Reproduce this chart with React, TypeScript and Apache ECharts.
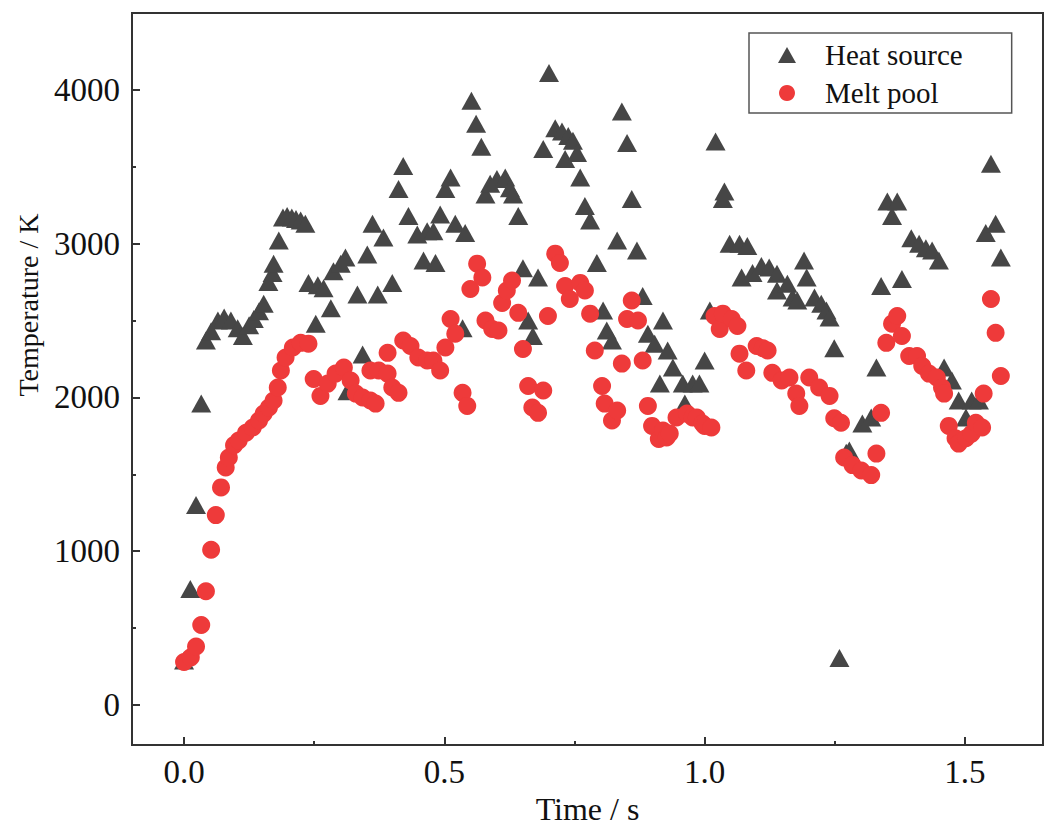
import React, { useEffect, useRef } from "react";
import * as echarts from "echarts";

const xTicks = [0, 0.5, 1.0, 1.5];
const xMinorTicks = [0.25, 0.75, 1.25];
const yTicks = [0, 1000, 2000, 3000, 4000];
const yMinorTicks = [500, 1500, 2500, 3500];
const seriesNames = ["Heat source", "Melt pool"];

const heatSource: [number, number][] = [
  [0.0, 290], [0.012, 755], [0.023, 1300], [0.033, 1960], [0.042, 2370], [0.052, 2430],
  [0.065, 2500], [0.077, 2520], [0.09, 2500], [0.103, 2450], [0.113, 2400], [0.125, 2470],
  [0.134, 2510], [0.144, 2560], [0.153, 2610], [0.162, 2750], [0.17, 2810], [0.172, 2870],
  [0.182, 3020], [0.19, 3170], [0.198, 3180], [0.207, 3170], [0.215, 3160], [0.224, 3150],
  [0.233, 3130], [0.239, 2745], [0.253, 2480], [0.257, 2730], [0.268, 2710], [0.282, 2580],
  [0.287, 2820], [0.301, 2870], [0.31, 2910], [0.314, 2040], [0.333, 2670], [0.343, 2280],
  [0.352, 2930], [0.362, 3130], [0.372, 2670], [0.383, 3040], [0.4, 2745], [0.412, 3355],
  [0.421, 3505], [0.431, 3180], [0.448, 3060], [0.46, 2890], [0.467, 3080], [0.479, 3080],
  [0.483, 2875], [0.492, 3190], [0.502, 3355], [0.512, 3430], [0.521, 3130], [0.535, 2450],
  [0.54, 3070], [0.552, 3930], [0.561, 3780], [0.571, 3630], [0.579, 3320], [0.588, 3390],
  [0.601, 3420], [0.617, 3430], [0.626, 3360], [0.632, 3320], [0.642, 3180], [0.651, 2840],
  [0.661, 2500], [0.67, 2400], [0.68, 2780], [0.69, 3615], [0.701, 4110], [0.713, 3750],
  [0.726, 3730], [0.732, 3550], [0.738, 3700], [0.747, 3670], [0.755, 3590], [0.761, 3430],
  [0.77, 3245], [0.78, 3150], [0.793, 2875], [0.805, 2565], [0.812, 2435], [0.822, 2370],
  [0.832, 3020], [0.841, 3860], [0.851, 3655], [0.86, 3290], [0.87, 2955], [0.881, 2660],
  [0.891, 2415], [0.904, 2350], [0.914, 2090], [0.92, 2500], [0.929, 2305], [0.939, 2195],
  [0.958, 2090], [0.962, 1960], [0.977, 2090], [0.99, 2090], [1.0, 2240], [1.01, 2565],
  [1.021, 3665], [1.035, 3290], [1.038, 3340], [1.048, 3000], [1.067, 3000], [1.071, 2780],
  [1.082, 2985], [1.092, 2810], [1.109, 2855], [1.124, 2845], [1.139, 2805], [1.139, 2695],
  [1.159, 2740], [1.169, 2650], [1.178, 2630], [1.191, 2890], [1.196, 2780], [1.211, 2650],
  [1.224, 2610], [1.234, 2565], [1.24, 2520], [1.249, 2320], [1.259, 305], [1.272, 1640],
  [1.278, 1655], [1.303, 1830], [1.32, 1870], [1.33, 2195], [1.339, 2725], [1.351, 3275],
  [1.36, 3180], [1.37, 3275], [1.379, 2770], [1.397, 3035], [1.412, 3000], [1.425, 2970],
  [1.437, 2955], [1.45, 2890], [1.46, 2195], [1.475, 2110], [1.488, 1980], [1.502, 1870],
  [1.513, 1980], [1.527, 1980], [1.54, 3070], [1.55, 3520], [1.559, 3130], [1.569, 2910],
];

const meltPool: [number, number][] = [
  [0.0, 280], [0.013, 310], [0.023, 380], [0.033, 520], [0.042, 740], [0.052, 1010],
  [0.061, 1235], [0.071, 1415], [0.08, 1545], [0.086, 1610], [0.096, 1690], [0.105, 1720],
  [0.119, 1770], [0.132, 1805], [0.144, 1850], [0.153, 1895], [0.163, 1935], [0.172, 1980],
  [0.18, 2065], [0.186, 2175], [0.195, 2260], [0.209, 2325], [0.224, 2355], [0.239, 2350],
  [0.249, 2120], [0.262, 2010], [0.276, 2090], [0.291, 2155], [0.307, 2195], [0.32, 2110],
  [0.33, 2025], [0.343, 2000], [0.358, 1980], [0.368, 1960], [0.358, 2175], [0.374, 2175],
  [0.391, 2155], [0.391, 2290], [0.4, 2065], [0.412, 2030], [0.421, 2370], [0.435, 2335],
  [0.45, 2260], [0.467, 2240], [0.479, 2240], [0.492, 2175], [0.502, 2325], [0.512, 2510],
  [0.521, 2415], [0.535, 2030], [0.544, 1945], [0.55, 2705], [0.563, 2870], [0.573, 2780],
  [0.579, 2500], [0.592, 2445], [0.604, 2435], [0.611, 2615], [0.62, 2695], [0.63, 2760],
  [0.642, 2550], [0.651, 2315], [0.661, 2075], [0.669, 1935], [0.68, 1900], [0.69, 2045],
  [0.699, 2530], [0.713, 2935], [0.722, 2875], [0.732, 2725], [0.741, 2640], [0.761, 2745],
  [0.77, 2695], [0.78, 2545], [0.789, 2305], [0.803, 2075], [0.808, 1960], [0.822, 1850],
  [0.832, 1915], [0.841, 2220], [0.851, 2510], [0.86, 2630], [0.872, 2500], [0.881, 2240],
  [0.891, 1945], [0.899, 1815], [0.912, 1730], [0.92, 1785], [0.927, 1740], [0.933, 1765],
  [0.946, 1870], [0.966, 1895], [0.977, 1870], [0.985, 1870], [0.996, 1830], [1.0, 1815],
  [1.013, 1805], [1.019, 2530], [1.029, 2445], [1.035, 2545], [1.052, 2510], [1.063, 2465],
  [1.067, 2285], [1.08, 2175], [1.1, 2335], [1.112, 2320], [1.121, 2305], [1.13, 2160],
  [1.148, 2110], [1.163, 2130], [1.176, 2025], [1.182, 1945], [1.201, 2130], [1.22, 2065],
  [1.24, 2010], [1.249, 1865], [1.262, 1835], [1.268, 1610], [1.284, 1560], [1.301, 1525],
  [1.32, 1495], [1.33, 1635], [1.339, 1900], [1.349, 2355], [1.36, 2480], [1.37, 2530],
  [1.379, 2400], [1.393, 2270], [1.408, 2270], [1.418, 2205], [1.431, 2155], [1.446, 2130],
  [1.456, 2065], [1.46, 2025], [1.469, 1815], [1.482, 1735], [1.488, 1700], [1.502, 1735],
  [1.513, 1765], [1.521, 1835], [1.533, 1805], [1.536, 2025], [1.55, 2640], [1.559, 2420],
  [1.569, 2140],
];

export default function App() {
  const ref = useRef<HTMLDivElement>(null);
  useEffect(() => {
    const chart = echarts.init(ref.current!, null, { renderer: "svg" });
    const font = "'Liberation Serif', 'Times New Roman', serif";
    const axisColor = "#333333";
    const textColor = "#111111";
    const xMin = -0.1;
    const xMax = 1.65;
    const yMin = -260;
    const yMax = 4500;
    const minorAxisBase = {
      type: "value",
      splitLine: { show: false },
      splitArea: { show: false },
      minorTick: { show: false },
      axisLine: { show: false, onZero: false },
      axisLabel: { show: false },
    };
    chart.setOption({
      animation: false,
      backgroundColor: "#ffffff",
      grid: {
        left: 132,
        right: 2,
        top: 13,
        bottom: 84,
        outerBoundsMode: "none",
        containLabel: false,
        show: true,
        borderColor: axisColor,
        borderWidth: 2,
        backgroundColor: "transparent",
      },
      legend: {
        show: true,
        orient: "vertical",
        left: 749,
        top: 33,
        data: seriesNames,
        itemWidth: 18,
        itemHeight: 16,
        itemGap: 8,
        padding: [7, 49, 5, 29],
        borderColor: "#555555",
        borderWidth: 1.5,
        backgroundColor: "#ffffff",
        textStyle: {
          fontFamily: font,
          fontSize: 29,
          color: textColor,
          lineHeight: 30,
          padding: [0, 0, 0, 24],
        },
      },
      xAxis: [
        {
          type: "value",
          min: xMin,
          max: xMax,
          position: "bottom",
          splitLine: { show: false },
          minorTick: { show: false },
          axisLine: { show: true, onZero: false, lineStyle: { color: axisColor, width: 2 } },
          axisTick: {
            show: true,
            inside: true,
            length: 8,
            customValues: xTicks,
            lineStyle: { color: axisColor, width: 2 },
          },
          axisLabel: {
            show: true,
            customValues: xTicks,
            formatter: (v: number) => v.toFixed(1),
            fontFamily: font,
            fontSize: 33,
            color: textColor,
            margin: 10,
          },
          name: "Time / s",
          nameLocation: "middle",
          nameGap: 43,
          nameTextStyle: { fontFamily: font, fontSize: 32, color: textColor },
        },
        {
          ...minorAxisBase,
          min: xMin,
          max: xMax,
          position: "bottom",
          axisTick: {
            show: true,
            inside: true,
            length: 4,
            customValues: xMinorTicks,
            lineStyle: { color: axisColor, width: 2 },
          },
        },
      ],
      yAxis: [
        {
          type: "value",
          min: yMin,
          max: yMax,
          position: "left",
          splitLine: { show: false },
          minorTick: { show: false },
          axisLine: { show: true, onZero: false, lineStyle: { color: axisColor, width: 2 } },
          axisTick: {
            show: true,
            inside: true,
            length: 8,
            customValues: yTicks,
            lineStyle: { color: axisColor, width: 2 },
          },
          axisLabel: {
            show: true,
            customValues: yTicks,
            formatter: (v: number) => String(v),
            fontFamily: font,
            fontSize: 33,
            color: textColor,
            margin: 12,
          },
        },
        {
          ...minorAxisBase,
          min: yMin,
          max: yMax,
          position: "left",
          axisTick: {
            show: true,
            inside: true,
            length: 4,
            customValues: yMinorTicks,
            lineStyle: { color: axisColor, width: 2 },
          },
        },
      ],
      graphic: [
        {
          type: "text",
          x: 28,
          y: 305,
          rotation: Math.PI / 2,
          style: {
            text: "Temperature / K",
            fontFamily: font,
            fontSize: 28,
            fill: textColor,
            align: "center",
            verticalAlign: "middle",
          },
        },
      ],
      series: [
        {
          type: "scatter",
          name: seriesNames[0],
          data: heatSource,
          symbol: "triangle",
          symbolSize: [20, 18],
          itemStyle: { color: "#464646", opacity: 1 },
          xAxisIndex: 0,
          yAxisIndex: 0,
        },
        {
          type: "scatter",
          name: seriesNames[1],
          data: meltPool,
          symbol: "circle",
          symbolSize: 18,
          itemStyle: { color: "#ee3a3a", opacity: 1 },
          xAxisIndex: 0,
          yAxisIndex: 0,
        },
      ],
    });
    return () => chart.dispose();
  }, []);
  return (
    <div
      ref={ref}
      style={{ position: "fixed", left: 0, top: 0, width: 1045, height: 829, background: "#fff" }}
    />
  );
}
